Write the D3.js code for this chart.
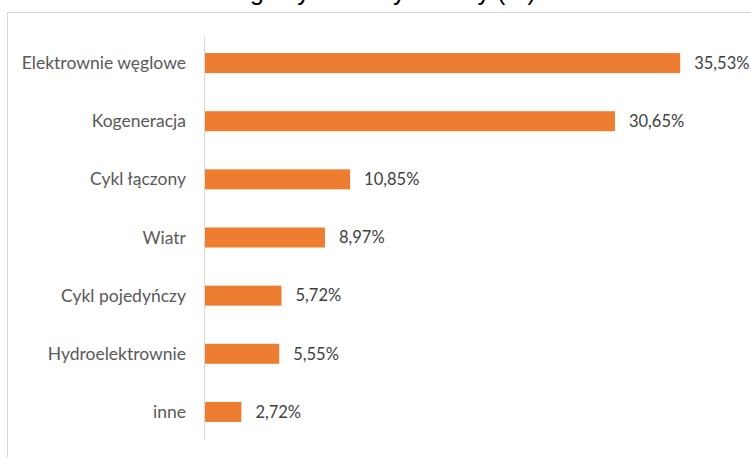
<!DOCTYPE html>
<html>
<head>
<meta charset="utf-8">
<script src="https://cdn.jsdelivr.net/npm/d3@7"></script>
<style>
  body { margin: 0; background: #fff; }
  text { font-family: Lato, "Open Sans", sans-serif; }
</style>
</head>
<body>
<div id="chart-area"></div>
<script>
// data
const categories = ["Elektrownie węglowe", "Kogeneracja", "Cykl łączony", "Wiatr", "Cykl pojedyńczy", "Hydroelektrownie", "inne"]
const shares = [35.53, 30.65, 10.85, 8.97, 5.72, 5.55, 2.72]
const titleText = "Ogólny miks wytwórczy (%)"

const data = categories.map((c, i) => ({ name: c, value: shares[i] }))

const svg = d3.select("#chart-area")
    .append("svg")
    .attr("width", 751)
    .attr("height", 457)

// chart border (runs off the right and bottom edge)
svg.append("rect")
    .attr("x", 7.5)
    .attr("y", 12.5)
    .attr("width", 800)
    .attr("height", 500)
    .attr("fill", "#fff")
    .attr("stroke", "#d9d9d9")

// title, only its bottom shows in the original
const title = svg.append("text")
    .attr("x", 0)
    .attr("y", 0)
    .attr("font-size", 26)
    .style("font-family", "'Liberation Sans', Arial, sans-serif")
    .attr("fill", "#000")
    .text(titleText)

// fit it so the "g" sits near 250 and the "(" near 497
const tn = title.node()
const gi = titleText.indexOf("g"), pi = titleText.indexOf("(")
const span = tn.getStartPositionOfChar(pi).x - tn.getStartPositionOfChar(gi).x
const fs = 26 * 247 / span
title.attr("font-size", fs)
title.attr("x", 250 - tn.getStartPositionOfChar(gi).x)

const x = d3.scaleLinear()
    .domain([0, 40])
    .range([205, 740])

const y = d3.scaleBand()
    .domain(categories)
    .range([34, 441])
    .paddingInner(0.656)
    .paddingOuter(0.328)

// vertical axis line
svg.append("line")
    .attr("x1", 204.5).attr("x2", 204.5)
    .attr("y1", 36).attr("y2", 440)
    .attr("stroke", "#d9d9d9")

svg.selectAll("rect.bar")
    .data(data)
    .enter().append("rect")
    .attr("class", "bar")
    .attr("x", x(0))
    .attr("y", d => y(d.name))
    .attr("width", d => x(d.value) - x(0))
    .attr("height", y.bandwidth())
    .attr("fill", "#ed7d31")

svg.selectAll("text.cat")
    .data(data)
    .enter().append("text")
    .attr("class", "cat")
    .attr("x", 186)
    .attr("y", d => y(d.name) + y.bandwidth() / 2)
    .attr("dy", "0.35em")
    .attr("text-anchor", "end")
    .attr("font-size", 17.5)
    .attr("fill", "#595959")
    .text(d => d.name)

svg.selectAll("text.val")
    .data(data)
    .enter().append("text")
    .attr("class", "val")
    .attr("x", d => x(d.value) + 14)
    .attr("y", d => y(d.name) + y.bandwidth() / 2)
    .attr("dy", "0.35em")
    .attr("font-size", 16.5)
    .attr("fill", "#404040")
    .text(d => d.value.toFixed(2).replace(".", ",") + "%")
</script>
</body>
</html>
